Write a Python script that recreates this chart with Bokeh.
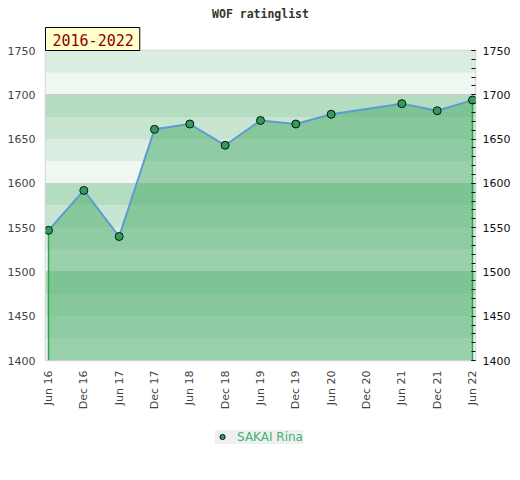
from math import pi
from bokeh.plotting import figure
from bokeh.layouts import column
from bokeh.models import (LinearAxis, SingleIntervalTicker, FixedTicker, BoxAnnotation,
                          Title, Legend, LegendItem, Range1d)
from bokeh.embed import file_html
from bokeh.resources import INLINE

# ---- data ----
chart_title = "WOF ratinglist"
period_label = "2016-2022"
player = "SAKAI Rina"
tick_labels = ["Jun 16", "Dec 16", "Jun 17", "Dec 17", "Jun 18", "Dec 18", "Jun 19",
               "Dec 19", "Jun 20", "Dec 20", "Jun 21", "Dec 21", "Jun 22"]
periods = [0, 1, 2, 3, 4, 5, 6, 7, 8, 10, 11, 12]   # index into tick_labels (no Dec 20 entry)
ratings = [1547, 1592, 1540, 1661, 1667, 1643, 1671, 1667, 1678, 1690, 1682, 1694]
y_min, y_max = 1400, 1750

marker_style = dict(fill_color="#2e9e5a", line_color="#111111", line_width=1)

p = figure(frame_width=430, frame_height=310, output_backend="svg", toolbar_location=None,
           x_range=Range1d(-0.085, 12.085), y_range=Range1d(y_min, y_max),
           min_border_left=45, min_border_right=36, min_border_top=50, min_border_bottom=60,
           title=None)
p.background_fill_color = "white"
p.outline_line_color = "#d4d4d4"
p.outline_line_width = 1.5

# background bands (every 25 points, repeating every 100)
band_colors = ["#eff7f2", "#dbede1", "#c8e5d1", "#b3dcc0"]
for lo in range(y_min, y_max, 25):
    idx = ((lo - y_min) // 25) % 4
    p.add_layout(BoxAnnotation(bottom=lo, top=lo + 25, fill_color=band_colors[idx],
                               fill_alpha=1, line_color=None, level="image"))

p.xgrid.visible = False
p.ygrid.ticker = FixedTicker(ticks=[1500, 1600, 1700])
p.ygrid.grid_line_color = "#cfcfcf"
p.ygrid.grid_line_width = 1

# area under the rating line
p.varea(x=periods, y1=y_min, y2=ratings, fill_color="#45ac66", fill_alpha=0.5)
p.segment(x0=[periods[0], periods[-1]], y0=[y_min, y_min],
          x1=[periods[0], periods[-1]], y1=[ratings[0], ratings[-1]],
          line_color="#2ea44f", line_width=1.5)
p.line(periods, ratings, line_color="#5b9bd5", line_width=2)
p.scatter(periods, ratings, size=8, **marker_style)

# x axis
p.xaxis.ticker = FixedTicker(ticks=list(range(len(tick_labels))))
p.xaxis.major_label_overrides = {i: t for i, t in enumerate(tick_labels)}
p.xaxis.major_label_orientation = pi / 2
p.xaxis.axis_line_color = None
p.xaxis.major_tick_line_color = None
p.xaxis.minor_tick_line_color = None
p.xaxis.major_tick_out = 0
p.xaxis.minor_tick_out = 0
p.xaxis.major_label_text_color = "#444444"
p.xaxis.major_label_text_font = "DejaVu Sans"
p.xaxis.major_label_text_font_size = "11px"
p.xaxis.major_label_standoff = 10

# left y axis
p.yaxis.ticker = SingleIntervalTicker(interval=50, num_minor_ticks=0)
p.yaxis.axis_line_color = None
p.yaxis.major_tick_line_color = None
p.yaxis.minor_tick_line_color = None
p.yaxis.major_tick_out = 0
p.yaxis.minor_tick_out = 0
p.yaxis.major_label_text_color = "#444444"
p.yaxis.major_label_text_font = "DejaVu Sans"
p.yaxis.major_label_text_font_size = "11px"
p.yaxis.major_label_standoff = 10

# right y axis
ra = LinearAxis(ticker=SingleIntervalTicker(interval=50, num_minor_ticks=5),
                axis_line_color=None, major_tick_in=4, major_tick_out=0,
                minor_tick_in=4, minor_tick_out=0,
                major_tick_line_color="#111111", minor_tick_line_color="#111111",
                major_label_text_color="#111111", major_label_text_font="DejaVu Sans",
                major_label_text_font_size="11px", major_label_standoff=7)
p.add_layout(ra, "right")

# period label box (adjacent to the frame)
p.add_layout(Title(text=period_label, align="left", text_font="DejaVu Sans Mono",
                   text_font_size="15px", text_font_style="normal", text_color="#8b0000",
                   background_fill_color="#ffffcc", border_line_color="black",
                   border_line_width=1, padding=dict(left=7, right=6, top=6, bottom=5),
                   standoff=0, offset=0), "above")

# chart title
p.add_layout(Title(text=chart_title, align="center", text_font="DejaVu Sans Mono",
                   text_font_style="bold", text_font_size="11.5px", text_color="#333333",
                   standoff=0, padding=dict(left=0, right=0, top=4, bottom=5)), "above")

# legend strip (separate small figure below the chart); its key renderer lies outside its view
lg = figure(width=511, height=33, output_backend="svg", toolbar_location=None,
            x_axis_type=None, y_axis_type=None, min_border_left=10, min_border_right=0,
            min_border_top=0, min_border_bottom=0, x_range=Range1d(0, 1), y_range=Range1d(0, 1))
lg.outline_line_color = None
lg.xgrid.visible = False
lg.ygrid.visible = False
key = lg.scatter(x=periods, y=ratings, size=8, **marker_style)
legend = Legend(items=[LegendItem(label=player, renderers=[key])], location="center",
                orientation="horizontal", background_fill_color="#f0f0f0",
                background_fill_alpha=1, border_line_color=None,
                label_text_color="#3cb371", label_text_font="DejaVu Sans",
                label_text_font_size="12px", glyph_width=14, glyph_height=13,
                label_height=13, padding=3, margin=0, label_standoff=8)
lg.add_layout(legend)

layout = column(p, lg, spacing=0)
open("out.html", "w").write(file_html(layout, INLINE))
